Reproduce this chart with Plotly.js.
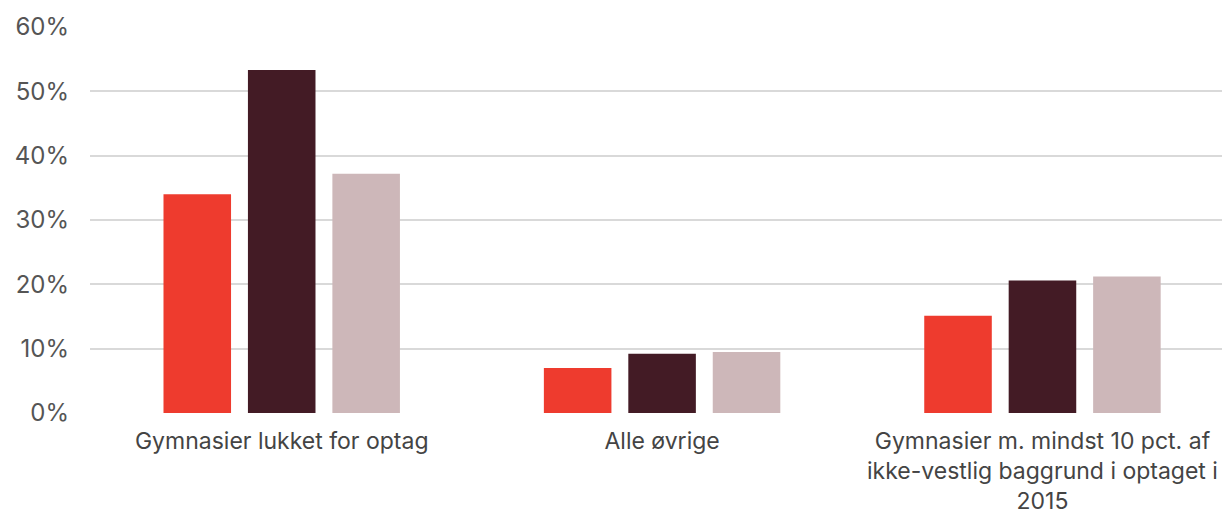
<!DOCTYPE html>
<html>
<head>
<meta charset="utf-8">
<script src="https://cdn.plot.ly/plotly-3.0.1.min.js"></script>
<style>html,body{margin:0;padding:0;background:#fff;}#chart{width:1222px;height:517px;}</style>
</head>
<body>
<div id="chart"></div>
<script>
const categories = ["Gymnasier lukket for optag", "Alle øvrige", "Gymnasier m. mindst 10 pct. af<br>ikke-vestlig baggrund i optaget i<br>2015"];
const seriesA = [34.0, 7.0, 15.1];
const seriesB = [53.3, 9.2, 20.6];
const seriesC = [37.2, 9.5, 21.2];
const colors = ["#EE3B2E", "#431B25", "#CDB7B9"];
const yTicks = [0, 10, 20, 30, 40, 50, 60];

const traces = [seriesA, seriesB, seriesC].map((v, i) => ({
  type: "bar", x: categories, y: v, marker: {color: colors[i]}, hoverinfo: "skip"
}));

const layout = {
  width: 1222, height: 517,
  margin: {l: 90, r: 0, t: 27, b: 104},
  paper_bgcolor: "#fff", plot_bgcolor: "#fff",
  barmode: "group", bargap: 0.334, bargroupgap: 0.2,
  showlegend: false,
  font: {family: "Inter, 'Open Sans', sans-serif", color: "#444"},
  xaxis: {
    type: "category", range: [-0.504, 2.472], showgrid: false, zeroline: false, showline: false,
    ticks: "", tickfont: {size: 23, color: "#444"}, tickangle: 0, ticklabelstandoff: 12
  },
  yaxis: {
    range: [0, 60], tickvals: yTicks, ticktext: yTicks.map(t => t + "%"),
    showgrid: true, gridcolor: "#d9d9d9", gridwidth: 2, zeroline: false, showline: false,
    tickfont: {size: 24, color: "#555"}, ticklabelstandoff: 20
  }
};
Plotly.newPlot("chart", traces, layout, {displayModeBar: false, staticPlot: true});
</script>
</body>
</html>
